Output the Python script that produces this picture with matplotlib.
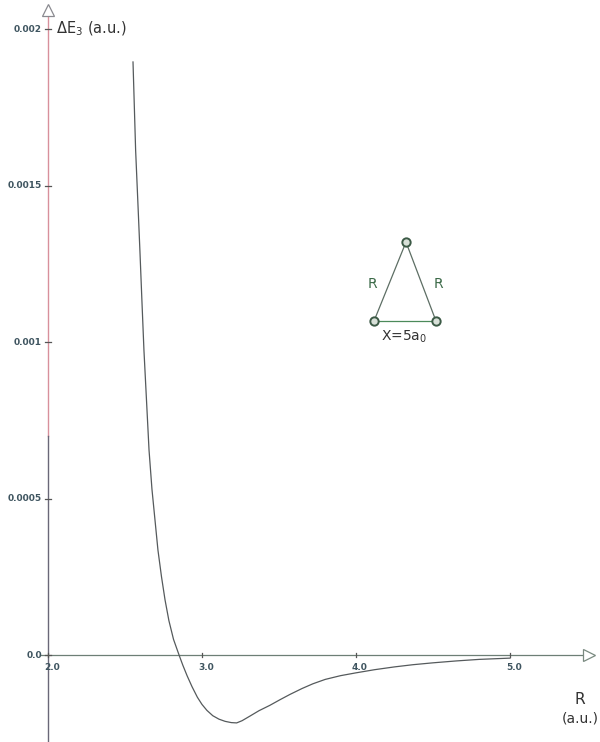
import matplotlib
matplotlib.use("Agg")
import matplotlib.pyplot as plt

# curve (R in a.u., delta E3 in a.u.)
r_vals = [2.552, 2.569, 2.585, 2.597, 2.610, 2.623, 2.640, 2.656, 2.675, 2.695,
          2.714, 2.737, 2.760, 2.785, 2.815, 2.851, 2.875, 2.903, 2.935, 2.97,
          3.0, 3.032, 3.07, 3.11, 3.15, 3.19, 3.225, 3.26, 3.312, 3.37,
          3.44, 3.506, 3.571, 3.65, 3.72, 3.80, 3.90, 4.0, 4.12, 4.25,
          4.37, 4.50, 4.65, 4.80, 5.0]
de_vals = [0.001895, 0.001613, 0.00143, 0.00129, 0.00113, 0.000974, 0.00081,
           0.000655, 0.00053, 0.00043, 0.000335, 0.00025, 0.000176, 0.00011,
           0.00005, 0.0, -0.000032, -0.000066, -0.000101, -0.000135,
           -0.000158, -0.000177, -0.000194, -0.000205, -0.000212, -0.000216,
           -0.000217, -0.00021, -0.000195, -0.000178, -0.000161, -0.000143,
           -0.000126, -0.000107, -0.000092, -0.000078, -0.000066, -0.000057,
           -0.000047, -0.000038, -0.000031, -0.000025, -0.000019, -0.000014,
           -0.00001]

x_ticks = [2.0, 3.0, 4.0, 5.0]
x_labels = ["2.0", "3.0", "4.0", "5.0"]
y_ticks = [0.0, 0.0005, 0.001, 0.0015, 0.002]
y_labels = ["0.0", "0.0005", "0.001", "0.0015", "0.002"]

fig = plt.figure(figsize=(6, 7.42), dpi=100)
ax = fig.add_axes([0, 0, 1, 1])
ax.set_xlim(2 - 48 / 154, 2 + 552 / 154)
ax.set_ylim(-0.000278, 0.002093)
ax.axis("off")

px = 1 / 154          # one pixel in R
py = 0.001 / 313      # one pixel in energy

lab_col = "#3f5560"

# y axis (pinkish above, darker below)
ax.plot([2.0, 2.0], [0.0007, 0.00204], color="#d8909c", lw=1.0)
ax.plot([2.0, 2.0], [-0.000278, 0.0007], color="#6a6878", lw=1.0)
ax.plot([2.0], [0.00206], marker="^", ms=9, mfc="white", mec="#8a8a90", mew=0.9)

# x axis
ax.plot([2.0 - 8 * px, 5.5], [0, 0], color="#6d7f76", lw=0.9)
ax.plot([5.51], [0], marker=">", ms=9, mfc="white", mec="#7a8a80", mew=0.9)

for t, l in zip(y_ticks, y_labels):
    ax.plot([2.0 - 3 * px, 2.0 + 3 * px], [t, t], color="#555", lw=0.9)
    ax.text(2.0 - 6 * px, t, l, ha="right", va="center", fontsize=6.5,
            fontweight="bold", color=lab_col)
for t, l in zip(x_ticks, x_labels):
    ax.plot([t, t], [-2 * py, 2 * py], color="#555", lw=0.9)
    ax.text(t + 4 * px, -13 * py, l, ha="center", va="center", fontsize=6.5,
            fontweight="bold", color=lab_col)

# curve
ax.plot(r_vals, de_vals, color="#555a5c", lw=0.9)

# axis titles
ax.text(2.0 + 8 * px, 0.00200, r"$\Delta$E$_3$ (a.u.)", ha="left", va="center",
        fontsize=10.5, color="#333")
ax.text(2.0 + 532 * px, -45 * py, "R", ha="center", va="center",
        fontsize=11, color="#333")
ax.text(2.0 + 532 * px, -64 * py, "(a.u.)", ha="center", va="center",
        fontsize=10, color="#333")

# inset triangle
def to_data(x, y):
    return 2.0 + (x - 48) * px, (655 - y) * py

tri = [to_data(406, 242), to_data(374, 321), to_data(436, 321)]
ax.plot([tri[0][0], tri[1][0]], [tri[0][1], tri[1][1]], color="#5d6e64", lw=0.9)
ax.plot([tri[1][0], tri[2][0]], [tri[1][1], tri[2][1]], color="#4c8a5a", lw=0.9)
ax.plot([tri[2][0], tri[0][0]], [tri[2][1], tri[0][1]], color="#5d6e64", lw=0.9)
for x, y in tri:
    ax.plot([x], [y], marker="o", ms=6, mfc="#d8e0d8", mec="#3c5a46", mew=1.4)

gx, gy = to_data(372, 284)
ax.text(gx, gy, "R", ha="center", va="center", fontsize=10, color="#3c6a48")
gx, gy = to_data(438, 284)
ax.text(gx, gy, "R", ha="center", va="center", fontsize=10, color="#3c6a48")
gx, gy = to_data(404, 337)
ax.text(gx, gy, "X=5a$_0$", ha="center", va="center", fontsize=10, color="#333")

fig.savefig("out.png", dpi=100, facecolor="white")
